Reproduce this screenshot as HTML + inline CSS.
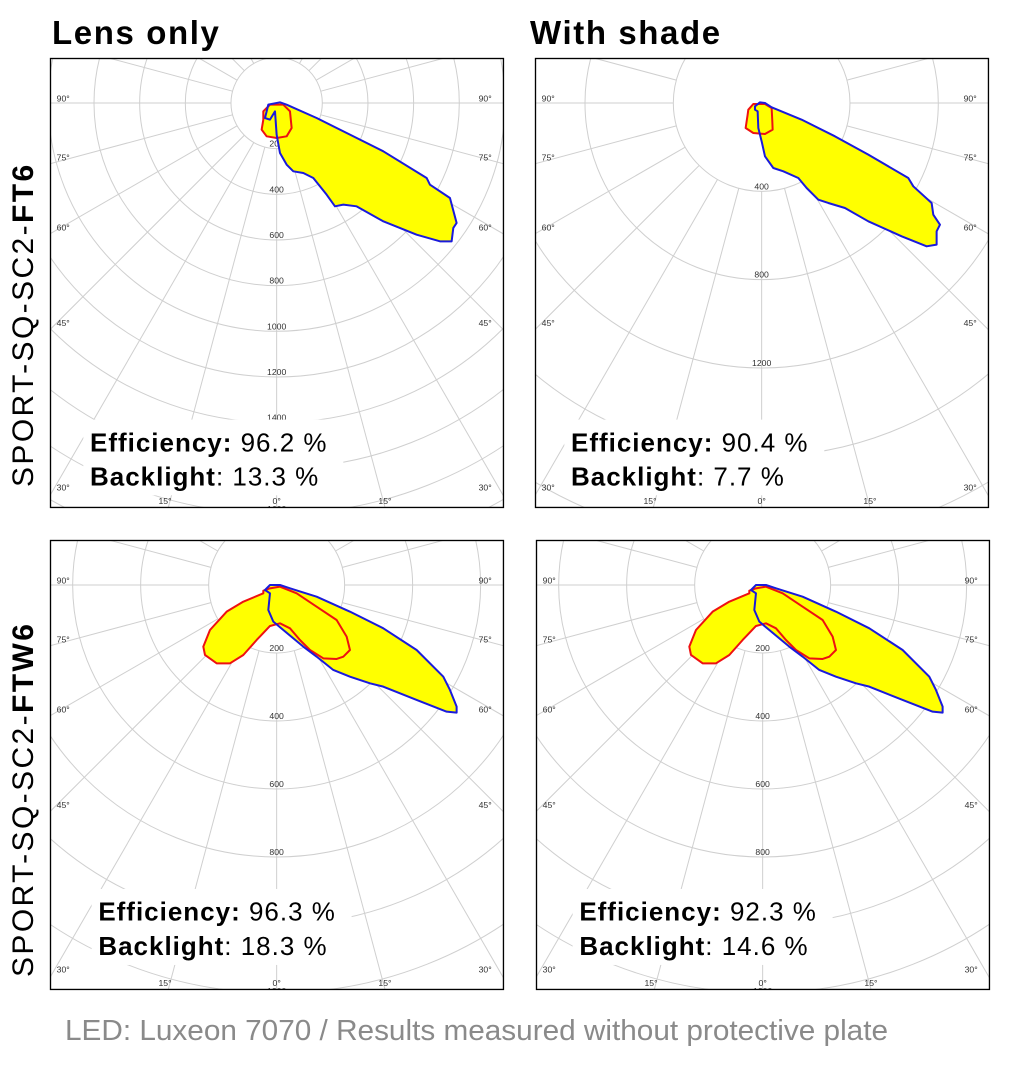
<!DOCTYPE html>
<html><head><meta charset="utf-8"><style>
html,body{margin:0;padding:0;background:#fff;width:1017px;height:1065px;overflow:hidden}
svg{display:block}
svg text{font-family:"Liberation Sans",sans-serif}
</style></head><body>
<svg id="s" width="1017" height="1065" viewBox="0 0 1017 1065" xmlns="http://www.w3.org/2000/svg">
<text x="52" y="44" font-size="33" font-weight="bold" letter-spacing="1.6">Lens only</text>
<text x="530" y="44" font-size="33" font-weight="bold" letter-spacing="1.6">With shade</text>
<text transform="translate(33,487) rotate(-90)" font-size="30" letter-spacing="2.4">SPORT-SQ-SC2-<tspan font-weight="bold">FT6</tspan></text>
<text transform="translate(33,977) rotate(-90)" font-size="30" letter-spacing="2.4">SPORT-SQ-SC2-<tspan font-weight="bold">FTW6</tspan></text>
<text x="65" y="1040" font-size="29" fill="#8a8a8a" textLength="823" lengthAdjust="spacingAndGlyphs">LED: Luxeon 7070 / Results measured without protective plate</text>

<g id="p1" transform="translate(50,58) scale(0.3333)"></g>
<g id="p2" transform="translate(535,58) scale(0.3333)"></g>
<g id="p3" transform="translate(50,540) scale(0.3333)"></g>
<g id="p4" transform="translate(536,540) scale(0.3333)"></g>
</svg>
<script>
var NS="http://www.w3.org/2000/svg";
function el(p,t,a,txt){var e=document.createElementNS(NS,t);for(var k in a)e.setAttribute(k,a[k]);if(txt!=null)e.textContent=txt;p.appendChild(e);return e;}
function panel(id,step,startVal,valStep,blue,reds,eff,back,tx,ty1,ty2,bottomLabel){
 var g=document.getElementById(id);
 var cid="c"+id;
 var d=el(g,"defs",{});var cp=el(d,"clipPath",{id:cid});el(cp,"rect",{x:0,y:0,width:1362,height:1350});
 var gg=el(g,"g",{"clip-path":"url(#"+cid+")"});
 el(gg,"rect",{x:0,y:0,width:1362,height:1350,fill:"#fff"});
 var cx=680,cy=135;
 for(var k=1;k<=12;k++){el(gg,"circle",{cx:cx,cy:cy,r:step*k,fill:"none",stroke:"#cfcfcf","stroke-width":3});}
 for(var a=0;a<360;a+=15){var r=a*Math.PI/180;var s=Math.sin(r),c=Math.cos(r);
  el(gg,"line",{x1:cx+s*step,y1:cy+c*step,x2:cx+s*3000,y2:cy+c*3000,stroke:"#cfcfcf","stroke-width":3});}
 var lab=[["90°",135],["75°",312],["60°",522],["45°",808],["30°",1302]];
 lab.forEach(function(l){el(gg,"text",{x:20,y:l[1]-4,"font-size":26,fill:"#333"},l[0]);el(gg,"text",{x:1286,y:l[1]-4,"font-size":26,fill:"#333"},l[0]);});
 [[345,"15°"],[680,"0°"],[1005,"15°"]].forEach(function(l){el(gg,"text",{x:l[0],y:1338,"font-size":26,fill:"#333","text-anchor":"middle"},l[1]);});
 for(var k=1;k<=12;k++){var y=cy+step*k-6;if(y<1100)el(gg,"text",{x:cx,y:y,"font-size":26,fill:"#333","text-anchor":"middle"},String(startVal+valStep*(k-1)));}
 if(bottomLabel)el(gg,"text",{x:cx,y:1362,"font-size":26,fill:"#333","text-anchor":"middle"},bottomLabel);
 reds.forEach(function(r){el(gg,"polygon",{points:r,fill:"#ffff00"});});
 el(gg,"polygon",{points:blue,fill:"#ffff00"});
 reds.forEach(function(r){el(gg,"polygon",{points:r,fill:"none",stroke:"#ee1111","stroke-width":6,"stroke-linejoin":"round"});});
 el(gg,"polygon",{points:blue,fill:"none",stroke:"#1a1adc","stroke-width":6,"stroke-linejoin":"round"});
 el(gg,"rect",{x:tx-20,y:ty1-95,width:780,height:ty2-ty1+125,fill:"#fff"});
 var t1=el(gg,"text",{x:tx,y:ty1,"font-size":78,"letter-spacing":3});
 el(t1,"tspan",{"font-weight":"bold"},"Efficiency:");el(t1,"tspan",{},"\u00a0"+eff);
 var t2=el(gg,"text",{x:tx,y:ty2,"font-size":78,"letter-spacing":3});
 el(t2,"tspan",{"font-weight":"bold"},"Backlight");el(t2,"tspan",{},": "+back);
 el(g,"rect",{x:1.5,y:1.5,width:1359,height:1347,fill:"none",stroke:"#000","stroke-width":4});
}
var b1="655,140 690,133 710,140 800,180 900,230 1000,280 1130,360 1140,380 1200,420 1220,495 1210,510 1205,550 1170,550 1100,530 1000,490 920,445 880,440 855,445 830,410 790,360 760,345 730,340 710,320 690,285 680,230 675,160 660,185 645,180 650,160";
var r1="640,160 660,140 700,140 720,160 725,210 710,235 680,240 650,235 635,215 640,185";
var b2="660,145 675,133 690,135 710,148 800,185 900,235 1000,290 1120,360 1135,385 1190,435 1195,470 1215,500 1205,520 1205,560 1175,565 1100,535 1000,490 930,450 880,435 850,425 815,390 790,360 745,340 715,330 690,295 680,250 670,210 668,160 660,155";
var r2="640,155 655,138 690,138 710,150 712,190 713,215 690,228 655,225 632,210 638,170";
var b3="645,150 660,135 690,135 720,145 800,170 900,215 1000,265 1100,330 1180,410 1200,450 1220,500 1220,518 1190,515 1100,480 1000,440 960,430 900,410 850,390 800,350 760,320 700,270 670,245 655,210 660,160";
var r3="640,152 660,145 690,140 740,160 800,200 860,240 890,290 900,330 880,350 860,357 820,355 780,330 750,300 720,265 690,250 660,258 620,300 580,345 540,370 500,370 465,345 460,320 480,270 530,215 580,185 640,160";
panel("p1",137,200,200,b1,[r1],"96.2 %","13.3 %",120,1180,1282,"1600");
panel("p2",265,400,400,b2,[r2],"90.4 %","7.7 %",108,1180,1282,null);
panel("p3",204,200,200,b3,[r3],"96.3 %","18.3 %",145,1142,1245,"1200");
panel("p4",204,200,200,b3,[r3],"92.3 %","14.6 %",130,1142,1245,"1200");
</script>
</body></html>
